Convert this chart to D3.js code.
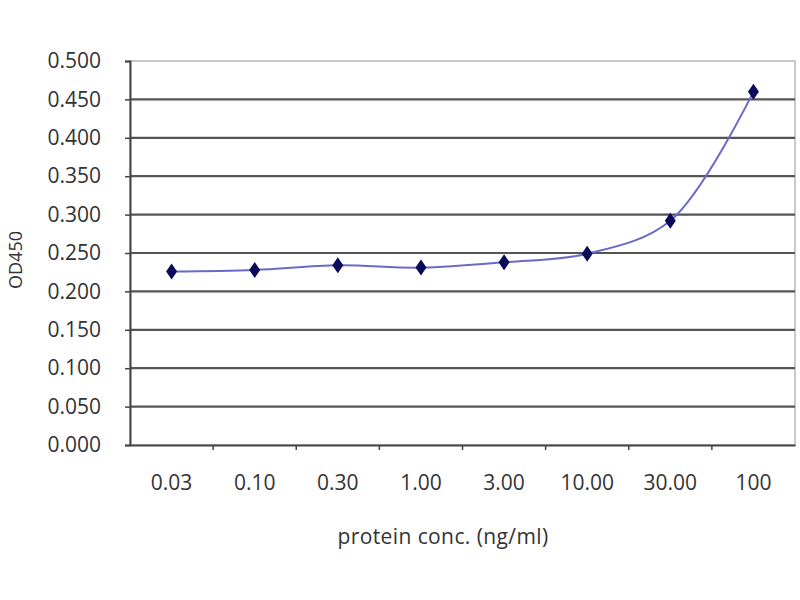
<!DOCTYPE html>
<html>
<head>
    <script src="https://d3js.org/d3.v7.min.js"></script>
    <style>
        body { margin: 0; background: #fff; }
        svg text { font-family: "Open Sans", sans-serif; fill: #333; }
    </style>
</head>
<body>
    <div id="chart"></div>
    <script>
        const categories = ["0.03", "0.10", "0.30", "1.00", "3.00", "10.00", "30.00", "100"];
        const od450 = [0.226, 0.228, 0.234, 0.231, 0.238, 0.249, 0.292, 0.460];
        const yTicks = [0, 0.05, 0.1, 0.15, 0.2, 0.25, 0.3, 0.35, 0.4, 0.45, 0.5];

        const width = 800, height = 600;
        const margin = { top: 61, right: 5, bottom: 155, left: 130 };

        const svg = d3.select("#chart").append("svg")
            .attr("width", width)
            .attr("height", height);

        const x = d3.scaleBand().domain(categories)
            .range([margin.left, width - margin.right]);
        const y = d3.scaleLinear().domain([0, 0.5])
            .range([height - margin.bottom, margin.top]);

        // plot border (light)
        svg.append("rect")
            .attr("x", margin.left).attr("y", margin.top)
            .attr("width", width - margin.right - margin.left)
            .attr("height", y(0) - margin.top)
            .attr("fill", "none").attr("stroke", "#b8b8b8").attr("stroke-width", 1.5);

        // gridlines
        svg.append("g")
            .selectAll("line")
            .data(yTicks.filter(d => d > 0 && d < 0.5))
            .join("line")
            .attr("x1", margin.left).attr("x2", width - margin.right)
            .attr("y1", d => y(d)).attr("y2", d => y(d))
            .attr("stroke", "#555").attr("stroke-width", 2.2);

        // y axis
        const yAxis = svg.append("g")
            .attr("transform", "translate(" + margin.left + ",0)")
            .call(d3.axisLeft(y).tickValues(yTicks).tickFormat(d3.format(".3f")).tickSize(5).tickPadding(24));
        yAxis.select(".domain").attr("stroke", "#444").attr("stroke-width", 2);
        yAxis.selectAll(".tick line").attr("stroke", "#444").attr("stroke-width", 1.5);
        yAxis.selectAll("text").style("font-size", "21px").attr("fill", "#333");

        // x axis
        const xAxis = svg.append("g")
            .attr("transform", "translate(0," + y(0) + ")")
            .call(d3.axisBottom(x).tickSize(0).tickPadding(30));
        xAxis.select(".domain").attr("stroke", "#444").attr("stroke-width", 2.2);
        xAxis.selectAll("text").style("font-size", "21px").attr("fill", "#333");
        // category boundary ticks
        xAxis.selectAll(".bound")
            .data(categories.slice(1))
            .join("line")
            .attr("class", "bound")
            .attr("x1", d => x(d)).attr("x2", d => x(d))
            .attr("y1", 0).attr("y2", 5)
            .attr("stroke", "#444").attr("stroke-width", 1.5);

        // line
        const pts = categories.map((c, i) => [x(c) + x.bandwidth() / 2, y(od450[i])]);
        svg.append("path")
            .attr("d", d3.line().curve(d3.curveCatmullRom.alpha(0.5))(pts))
            .attr("fill", "none")
            .attr("stroke", "#6a6ac8")
            .attr("stroke-width", 2);

        // markers
        svg.append("g")
            .selectAll("path")
            .data(pts)
            .join("path")
            .attr("transform", d => "translate(" + d[0] + "," + d[1] + ")")
            .attr("d", "M0,-8L5.5,0L0,8L-5.5,0Z")
            .attr("fill", "#0a0a5a");

        // axis titles
        svg.append("text")
            .attr("x", 443).attr("y", 544)
            .attr("text-anchor", "middle")
            .style("font-size", "21px")
            .style("letter-spacing", "0.4px")
            .text("protein conc. (ng/ml)");

        svg.append("text")
            .attr("transform", "translate(22,260) rotate(-90)")
            .attr("text-anchor", "middle")
            .style("font-size", "18px")
            .text("OD450");
    </script>
</body>
</html>
